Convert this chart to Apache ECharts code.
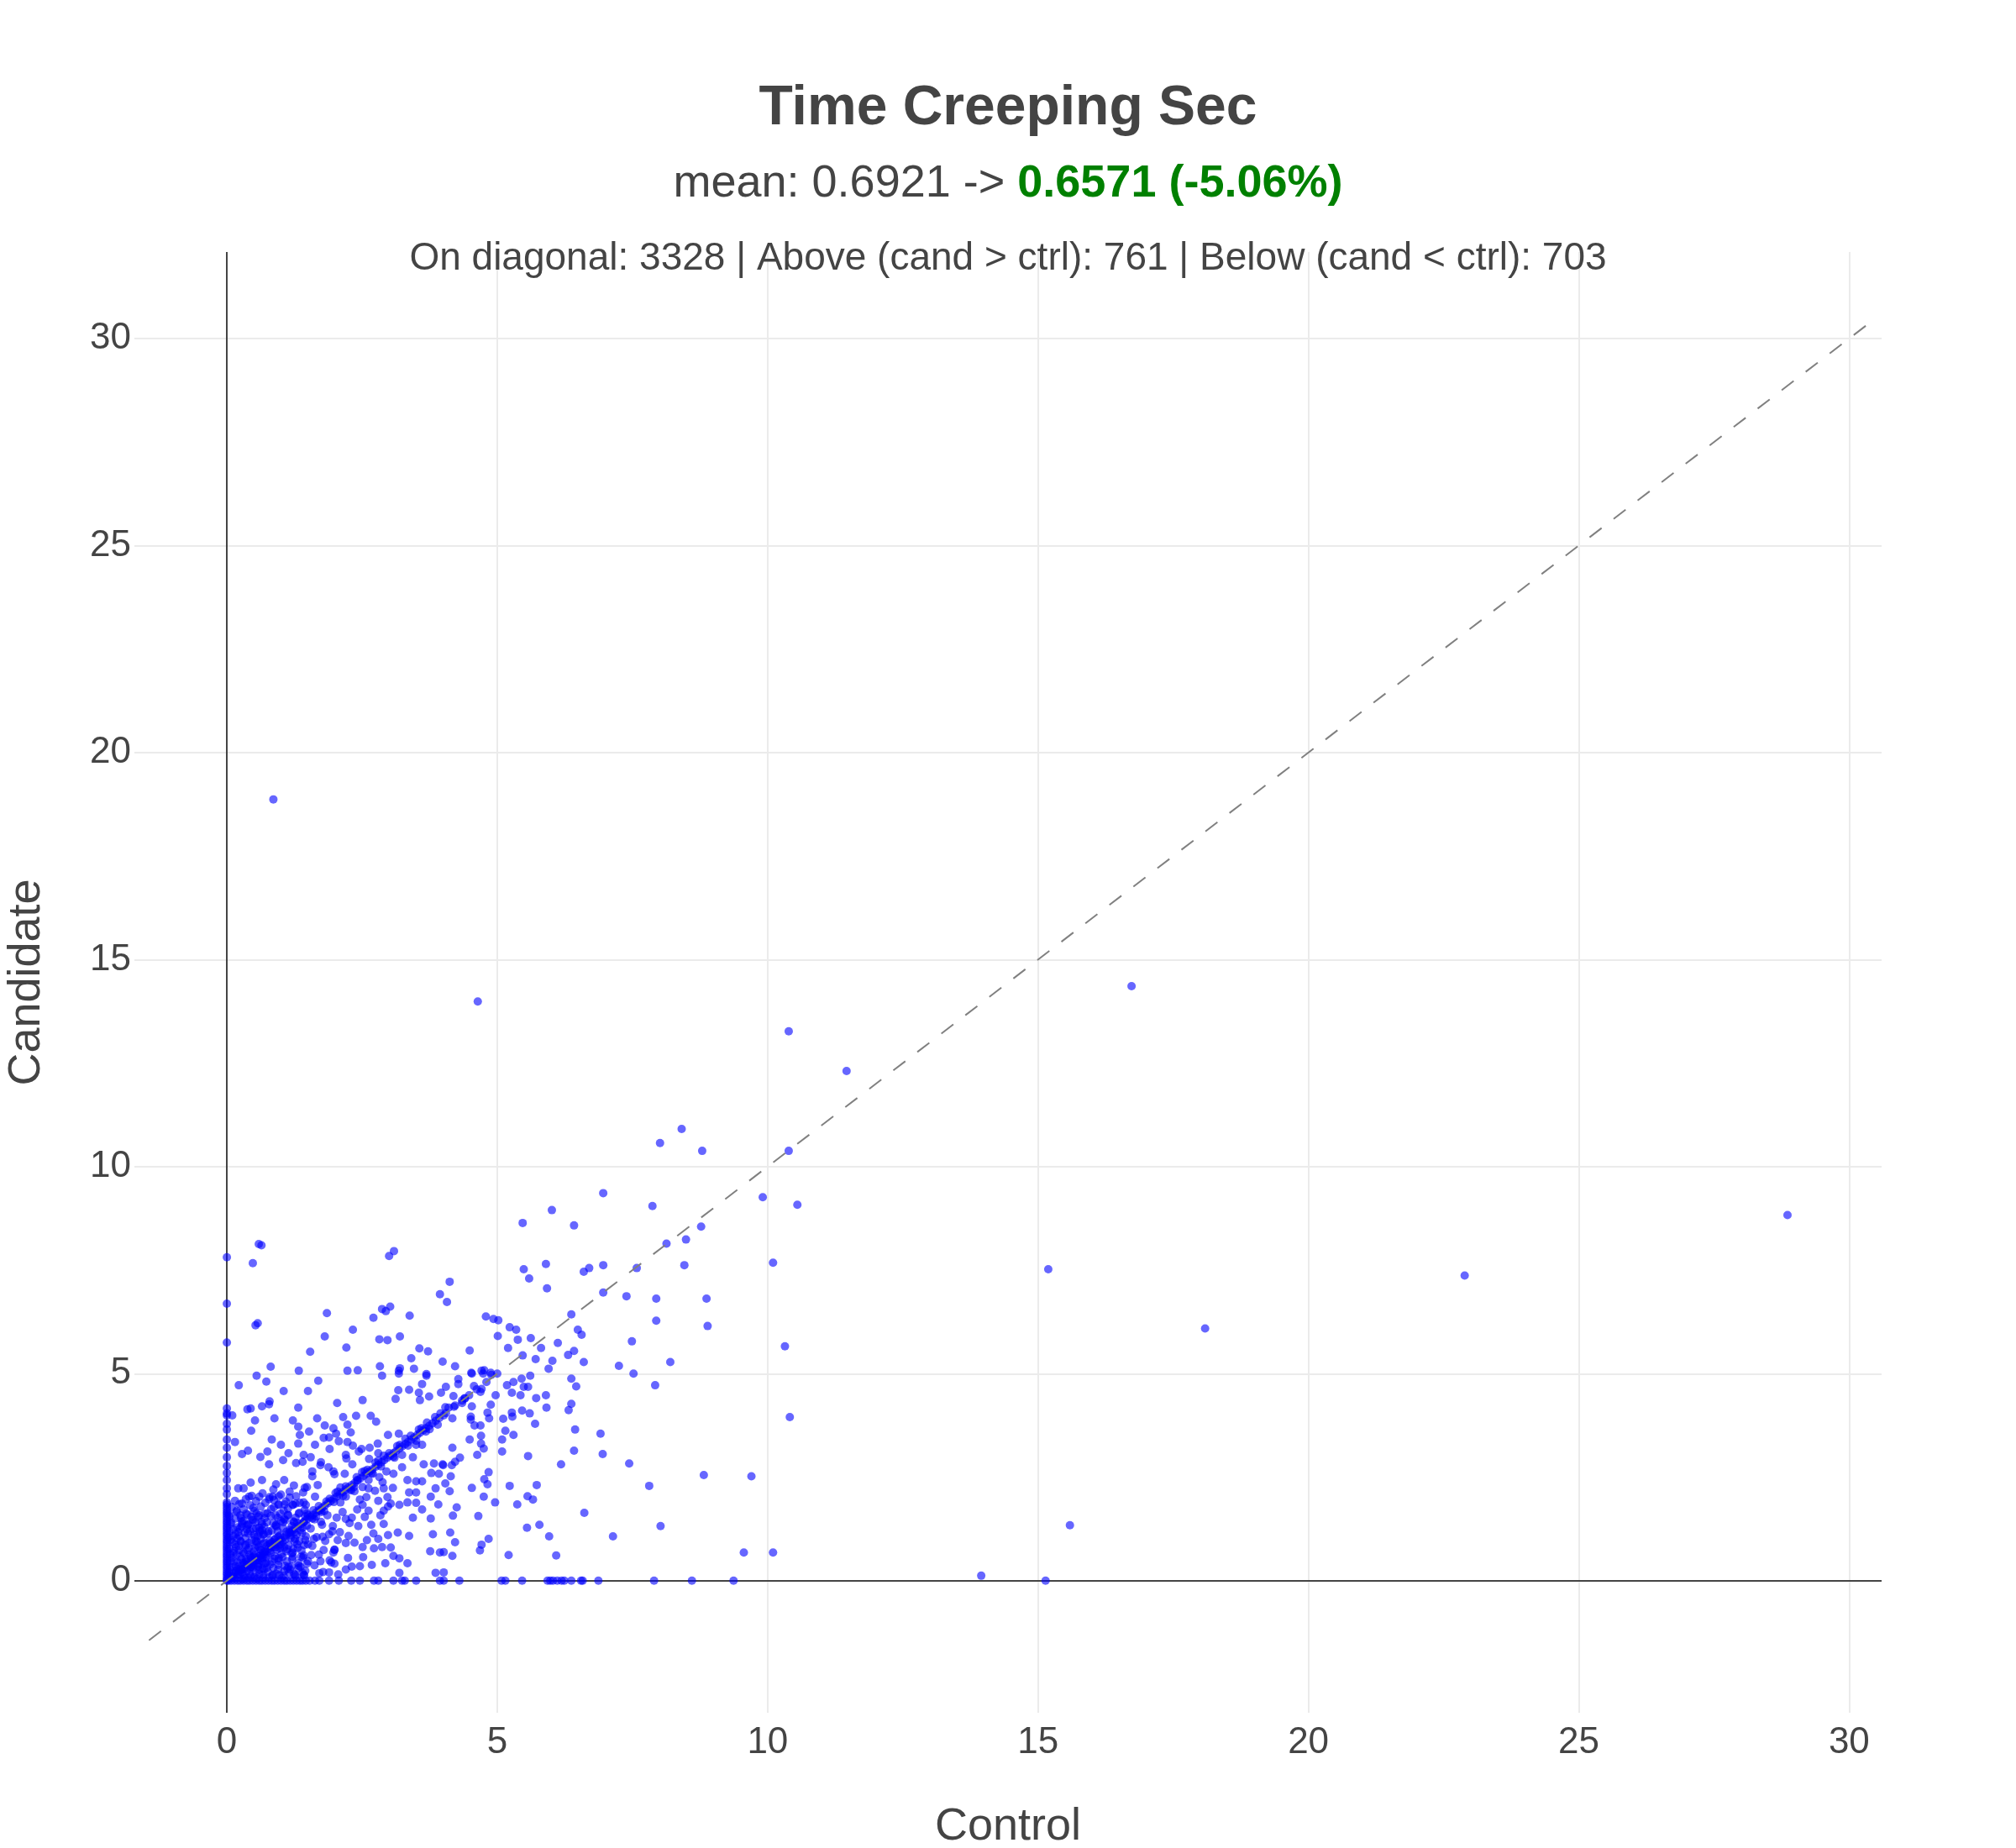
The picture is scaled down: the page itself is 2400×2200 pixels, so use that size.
<!DOCTYPE html>
<html>
<head>
<meta charset="utf-8">
<title>Time Creeping Sec</title>
<script src="https://cdn.jsdelivr.net/npm/echarts@6/dist/echarts.min.js"></script>
<style>
  html, body { margin: 0; padding: 0; background: #fff; }
  #chart { width: 2400px; height: 2200px; }
</style>
</head>
<body>
<div id="chart"></div>
<script>
// titles
var titleText = "Time Creeping Sec";
var meanCtrlText = "mean: 0.6921 -> ";
var meanCandText = "0.6571 (-5.06%)";
var countsText = "On diagonal: 3328 | Above (cand > ctrl): 761 | Below (cand < ctrl): 703";

// axis ticks
var xTicks = [0, 5, 10, 15, 20, 25, 30];
var yTicks = [0, 5, 10, 15, 20, 25, 30];
var diagEnds = [-1.44, 30.31];

// [control, candidate] points
var farPts = [
  [0.86,18.87],[4.64,13.99],[16.73,14.36],[10.39,13.27],[11.46,12.31],[8.41,10.91],[8.01,10.57],[8.79,10.38],
  [10.39,10.38],[6.96,9.36],[9.91,9.26],[10.55,9.08],[7.87,9.05],[28.86,8.83],[6.01,8.95],[5.47,8.64],
  [6.42,8.58],[8.77,8.55],[8.49,8.24],[8.13,8.14],[10.1,7.68],[5.9,7.65],[6.96,7.62],[6.7,7.55],[6.6,7.46],
  [15.19,7.52],[22.89,7.37],[5.49,7.52],[5.59,7.3],[7.58,7.55],[8.46,7.62],[5.92,7.06],[7.39,6.87],[8.87,6.81],
  [7.94,6.81],[6.37,6.43],[7.94,6.28],[8.89,6.15],[18.09,6.09],[5.23,6.12],[5.35,6.06],[6.49,6.06],[6.56,5.94],
  [10.32,5.66],[7.49,5.78],[8.2,5.28],[7.25,5.19],[10.41,3.95],[8.82,2.55],[9.7,2.52],[9.56,0.68],[10.1,0.68],
  [13.95,0.12],[15.59,1.34],[5.62,5.86],[5.81,5.62],[6.12,5.74],[6.31,5.45],[6.02,5.31],[6.42,5.55],[5.47,5.44],
  [5.71,5.35],[5.2,5.62],[5.95,5.12],[6.6,5.28],[5.38,5.82]
];
var midPts = [
  [4.28,4.87],[4.28,4.75],[4.05,4.68],[4.53,5.0],[4.74,5.0],[4.89,4.97],[4.57,4.7],[4.69,4.56],[4.71,4.63],
  [4.19,4.46],[4.4,4.41],[4.35,4.29],[4.22,4.23],[4.53,4.21],[4.04,4.19],[4.01,3.99],[4.17,3.92],[4.51,3.96],
  [4.51,3.89],[4.58,3.75],[4.69,3.75],[4.88,4.25],[4.82,4.06],[4.85,3.92],[4.97,4.48],[5.18,4.72],[5.3,4.8],
  [5.45,4.88],[5.61,4.95],[5.49,4.68],[5.57,4.68],[5.27,4.54],[5.43,4.48],[5.72,4.41],[5.9,4.48],[5.91,4.18],
  [5.46,4.11],[5.6,4.04],[5.27,4.06],[5.28,3.96],[5.11,3.91],[5.7,3.79],[5.15,3.62],[5.3,3.52],[5.09,3.41],
  [5.09,3.12],[4.7,3.5],[4.7,3.31],[4.75,3.19],[4.63,3.04],[4.49,3.41],[4.17,3.21],[4.31,2.97],[4.22,2.87],
  [4.16,2.79],[4.0,2.79],[4.14,2.52],[4.04,2.35],[4.12,2.16],[4.53,2.24],[4.76,2.45],[4.84,2.62],[4.82,2.33],
  [4.75,2.03],[4.96,1.89],[4.25,1.77],[4.18,1.57],[4.65,1.56],[4.13,1.16],[4.22,0.93],[4.71,0.87],[4.68,0.73],
  [4.84,1.01],[4.01,0.69],[4.17,0.6],[4.01,0.2],[5.23,2.29],[5.73,2.31],[5.56,2.04],[5.66,1.96],[5.37,1.84],
  [5.57,3.01],[6.18,2.81],[6.37,4.88],[6.46,4.69],[6.37,4.27],[6.32,4.12],[6.44,3.65],[6.42,3.14],[6.91,3.55],
  [6.95,3.06],[7.44,2.83],[7.81,2.29],[7.92,4.72],[7.52,5.0],[6.61,1.64],[8.02,1.32],[7.14,1.07],[5.96,1.07],
  [5.78,1.35],[5.55,1.28],[5.21,0.62],[6.09,0.61]
];
var upPts = [
  [0.48,7.67],[0.59,8.13],[0.64,8.1],[0.53,6.17],[0.57,6.22],[3.0,7.84],[3.09,7.96],[4.12,7.22],[3.94,6.92],
  [4.07,6.73],[1.85,6.46],[1.81,5.9],[1.54,5.53],[0.81,5.17],[1.33,5.07],[2.23,5.07],[2.42,5.08],[2.21,5.63],
  [2.33,6.06],[2.71,6.35],[2.87,6.56],[2.94,6.51],[3.02,6.62],[3.38,6.4],[2.82,5.83],[2.97,5.81],[3.2,5.9],
  [3.56,5.61],[3.72,5.54],[3.41,5.37],[3.46,5.12],[2.83,5.18],[3.18,5.07],[3.2,5.13],[3.69,4.99],[3.99,5.29],
  [4.22,5.18],[4.49,5.56],[4.79,6.38],[4.93,6.32],[5.02,6.29],[5.01,5.91],[4.52,5.02],[4.71,5.07],[4.76,5.08],
  [4.88,5.02]
];
var lowPts = [
  [0.73,4.81],[1.69,4.83],[1.5,4.58],[2.04,4.29],[2.51,4.36],[2.87,4.95],[3.18,5.0],[3.69,4.95],[3.61,4.75],
  [3.17,4.6],[3.37,4.61],[3.55,4.54],[3.12,4.39],[3.57,4.36],[3.74,4.45],[3.96,4.54],[0.79,4.33],[0.78,4.26],
  [0.65,4.21],[0.38,4.14],[0.44,4.16],[0.1,3.99],[1.32,4.18],[0.88,3.92],[0.52,3.87],[1.22,3.87],[1.32,3.72],
  [2.39,3.98],[2.66,3.98],[2.76,3.84],[1.81,3.75],[1.97,3.68],[2.02,3.55],[1.89,3.46],[2.23,3.77],[2.29,3.58],
  [2.23,3.35],[1.79,3.45],[1.63,3.28],[1.35,3.52],[1.32,3.31],[0.83,3.41],[1.0,3.28],[1.14,3.08],[0.75,3.12],
  [0.39,3.14],[0.28,3.06],[0.62,2.99],[0.78,2.81],[1.04,2.91],[1.28,2.84],[1.42,3.04],[1.4,2.87],[1.55,2.98],
  [1.58,2.64],[1.73,2.79],[1.97,2.64],[1.99,2.57],[2.2,3.04],[2.33,3.26],[2.49,3.18],[2.64,3.21],[2.8,3.08],
  [2.98,3.52],[3.18,3.55],[3.5,3.28],[3.61,3.28],[3.24,3.04],[3.44,2.98],[3.64,2.81],[3.83,2.83],[3.99,2.81],
  [3.78,2.6],[3.92,2.58],[3.86,2.23],[3.34,2.43],[3.5,2.4],[3.61,2.4],[3.07,2.24],[2.9,2.23],[2.62,2.23],
  [2.51,2.26],[3.37,2.13],[3.5,2.13],[3.77,2.03],[3.91,1.84],[2.8,1.93],[3.03,1.86],[3.19,1.83],[3.34,1.89],
  [3.5,1.88],[3.61,1.72],[3.44,1.52],[3.77,1.5],[2.98,1.79],[2.9,1.69],[2.62,1.69],[2.51,1.83],[2.31,1.52],
  [2.2,1.49],[2.43,1.32],[2.67,1.35],[2.9,1.37],[2.8,1.01],[2.98,1.1],[3.16,1.16],[3.37,1.08],[3.81,1.12],
  [2.59,0.98],[2.25,1.08],[2.2,0.91],[2.51,0.81],[2.72,0.78],[2.87,0.81],[3.03,0.8],[3.76,0.71],[3.94,0.68],
  [3.08,0.6],[3.19,0.54],[3.34,0.42],[3.19,0.19],[3.86,0.19],[2.46,0.35],[2.31,0.34],[2.2,0.27],[1.89,0.2],
  [1.99,0.41],[1.73,0.47],[1.79,0.74],[1.99,0.74],[2.05,0.98],[1.89,1.12],[1.97,0.68],[1.48,0.41],[1.32,0.3],
  [1.42,0.14],[1.61,1.01],[1.5,0.88],[1.73,1.69],[1.76,1.35],[1.48,1.62],[2.1,1.89],[2.2,2.03],[2.46,1.96],
  [2.36,2.16],[2.62,2.43],[2.41,2.43],[2.82,2.5],[3.08,2.58],[3.24,2.74],[2.95,2.64],[1.63,2.03],[1.42,1.89],
  [1.22,1.83],[1.48,2.26],[1.24,2.3],[1.06,2.43],[0.91,2.33],[0.65,2.43],[0.44,2.37],[0.31,2.23],[0.21,2.23],
  [0.41,2.03],[0.6,2.03],[0.85,2.03],[0.28,1.86],[0.18,1.69],[0.49,1.76],[0.7,1.62],[0.96,1.83],[1.06,1.49],
  [0.91,1.35],[0.65,1.22],[0.39,1.35],[0.23,1.08],[0.54,0.95],[0.8,0.88],[1.06,0.81],[1.22,0.68],[0.96,0.54],
  [0.7,0.41],[0.44,0.34],[0.23,0.27],[1.17,0.27],[0.55,4.95],[0.22,4.72],[1.05,4.58],[0.45,3.62],[0.15,3.35]
];
var densePts = [
  [0.04,0.21],[0.07,0.48],[0.11,0.09],[0.13,0.72],[0.16,0.35],[0.19,1.02],[0.21,0.16],[0.24,0.58],[0.27,1.31],[0.29,0.04],
  [0.32,0.41],[0.34,0.87],[0.37,0.23],[0.39,1.14],[0.42,0.63],[0.44,0.11],[0.47,1.47],[0.49,0.37],[0.52,0.79],[0.55,0.05],
  [0.57,1.08],[0.6,0.26],[0.62,0.55],[0.65,1.36],[0.67,0.14],[0.7,0.92],[0.73,0.43],[0.75,1.63],[0.78,0.08],[0.81,0.67],
  [0.83,1.21],[0.86,0.31],[0.88,0.99],[0.91,0.17],[0.94,1.52],[0.96,0.48],[0.99,0.83],[1.02,0.06],[1.04,1.27],[1.07,0.36],
  [1.1,0.71],[1.13,1.74],[1.15,0.19],[1.18,1.03],[1.21,0.52],[1.24,1.41],[1.27,0.11],[1.3,0.88],[1.33,1.62],[1.36,0.33],
  [1.39,1.15],[1.42,0.61],[1.45,0.24],[1.48,1.33],[0.05,1.55],[0.09,1.78],[0.12,1.24],[0.15,1.93],[0.18,1.66],[0.23,1.85],
  [0.26,1.51],[0.31,1.72],[0.35,1.97],[0.38,1.59],[0.43,1.82],[0.46,2.05],[0.51,1.68],[0.54,1.92],[0.58,1.54],[0.63,1.79],
  [0.66,2.11],[0.71,1.88],[0.74,1.41],[0.79,2.02],[0.82,1.73],[0.87,1.95],[0.9,1.58],[0.95,1.84],[1.0,2.08],[1.05,1.69],
  [1.09,1.91],[1.16,2.15],[1.22,1.83],[1.28,2.04],[1.35,1.88],[1.41,2.13],[0.06,0.64],[0.1,0.93],[0.14,0.19],[0.17,0.81],
  [0.2,0.44],[0.25,0.96],[0.28,0.27],[0.3,0.69],[0.33,1.16],[0.36,0.52],[0.4,0.07],[0.41,0.91],[0.45,0.33],[0.48,1.25],
  [0.5,0.62],[0.53,0.19],[0.56,0.94],[0.59,0.41],[0.61,1.18],[0.64,0.73],[0.66,0.29],[0.69,1.12],[0.72,0.56],[0.76,0.21],
  [0.79,0.97],[0.8,0.39],[0.84,0.12],[0.85,0.81],[0.89,0.59],[0.92,1.31],[0.95,0.27],[0.98,1.09],[1.01,0.64],[1.03,0.94],
  [1.06,0.23],[1.08,1.46],[1.11,0.47],[1.14,0.85],[1.17,1.23],[1.19,0.34],[1.23,0.77],[1.26,0.14],[1.29,1.11],[1.32,0.42],
  [1.34,0.96],[1.37,0.58],[1.4,0.19],[1.43,0.86],[1.46,1.07],[1.5,0.47],[0.08,0.33],[0.12,0.67],[0.22,0.84],[0.31,0.13],
  [0.38,0.74],[0.45,0.55],[0.53,1.41],[0.57,0.34],[0.68,0.62],[0.74,0.83],[0.83,0.46],[0.92,0.75],[0.97,0.13],[1.12,0.29],
  [1.2,0.66],[1.25,0.95],[1.38,0.73],[0.03,1.04],[0.07,1.37],[0.16,1.12],[0.24,1.26],[0.28,1.43],[0.37,1.33],[0.5,1.11],
  [0.6,1.28],[0.77,1.19],[0.86,1.39],[1.0,1.44],[1.13,1.58],[1.27,1.52],[1.44,1.71],[1.55,1.26],[1.58,0.84],[1.62,0.37],
  [1.66,1.05],[1.7,0.63],[1.74,1.42],[1.78,0.21],[1.82,0.96],[1.86,1.58],[1.9,0.49],[1.95,1.19],[1.99,0.75],[2.03,1.52],
  [1.6,1.7],[1.8,1.68],[2.1,2.25],[2.3,2.18],[2.5,2.62],[2.7,2.58],[2.9,3.02],[3.1,2.97],[3.3,3.43],[3.5,3.38],
  [3.7,3.82],[3.9,3.77],[1.2,1.32],[1.4,1.28],[0.9,1.02],[1.0,0.88],[0.3,0.42],[0.42,0.3],[0.62,0.75],[0.75,0.62]
];
// solid blob next to the origin
var corePts = [
  [0.03,0.12],[0.06,0.29],[0.09,0.55],[0.04,0.77],[0.07,0.98],[0.05,1.19],[0.08,1.41],[0.04,1.6],
  [0.14,0.05],[0.17,0.24],[0.13,0.46],[0.18,0.63],[0.15,0.88],[0.12,1.07],[0.19,1.29],[0.16,1.5],
  [0.24,0.14],[0.22,0.35],[0.27,0.52],[0.23,0.74],[0.26,0.94],[0.21,1.17],[0.28,1.38],[0.25,1.58],
  [0.33,0.06],[0.31,0.28],[0.36,0.47],[0.32,0.66],[0.35,0.85],[0.34,1.03],[0.37,1.24],[0.31,1.44],[0.36,1.62],
  [0.42,0.17],[0.4,0.38],[0.44,0.58],[0.41,0.79],[0.46,0.98],[0.43,1.19],[0.4,1.36],[0.45,1.54],
  [0.51,0.09],[0.49,0.31],[0.53,0.49],[0.5,0.7],[0.55,0.87],[0.52,1.05],[0.54,1.27],[0.49,1.46],[0.55,1.63],
  [0.6,0.16],[0.58,0.36],[0.62,0.6],[0.59,0.82],[0.63,1.01],[0.61,1.21],[0.64,1.42],[0.6,1.58],
  [0.67,0.07],[0.69,0.27],[0.66,0.47],[0.7,0.69],[0.68,0.89],[0.67,1.11],[0.69,1.31],[0.7,1.51],
  [0.74,0.31],[0.79,0.72],[0.76,1.14],[0.81,1.56],[0.78,1.97],[0.85,0.14],[0.88,0.53],[0.84,0.93],[0.9,1.33],
  [0.87,1.77],[0.86,2.2],[0.95,0.38],[0.98,0.78],[0.94,1.19],[0.99,1.62],[0.96,2.04],[1.05,0.12],[1.03,0.57],
  [1.08,0.99],[1.04,1.41],[1.07,1.84],[1.14,0.34],[1.12,0.76],[1.17,1.17],[1.13,1.59],[1.16,2.01],[1.24,0.16],
  [1.22,0.58],[1.26,1.01],[1.23,1.43],[1.27,1.86],[1.33,0.36],[1.31,0.79],[1.36,1.22],[1.34,1.64],[1.43,0.13],
  [1.41,0.56],[1.45,0.98],[1.42,1.41],[1.46,1.83],[1.44,2.24]
];
var spreadPts = [
  [1.56,0.62],[1.62,1.48],[1.68,2.31],[1.71,0.18],[1.77,1.06],[1.84,1.91],[1.88,2.74],[1.93,0.44],[1.96,1.32],
  [2.01,2.12],[2.06,0.15],[2.09,1.17],[2.14,1.66],[2.18,2.58],[2.24,0.55],[2.27,1.39],[2.32,2.81],[2.36,0.92],
  [2.41,1.72],[2.44,3.12],[2.52,0.57],[2.55,1.54],[2.58,2.02],[2.63,2.94],[2.68,0.38],[2.71,1.14],[2.74,2.17],
  [2.79,3.31],[2.84,1.58],[2.88,2.38],[2.93,0.42],[2.97,2.02],[1.58,2.52],[1.74,2.86],[1.9,3.18],[2.07,3.37],
  [2.21,2.95],[1.52,3.6],[1.67,3.92],[2.15,3.95],
  [0.2,0.28],[0.28,0.2],[0.5,0.58],[0.58,0.5],[0.8,0.9],[0.9,0.8],[1.1,1.18],[1.18,1.1],[1.3,1.4],[1.5,1.58],
  [1.58,1.5],[1.7,1.8],[1.9,1.98],[1.98,1.9],[2.2,2.28],[2.28,2.2],[2.4,2.5],[2.6,2.68],[2.68,2.6],[2.8,2.9],
  [3.0,3.08],[3.08,3.0],[3.2,3.28],[3.4,3.5],[3.6,3.68],[3.68,3.6],[3.85,3.95],[4.1,4.18],
  [0.35,0.45],[0.65,0.55],[0.95,1.06],[1.25,1.16],[1.45,1.55],[1.75,1.66],[2.05,2.15],[2.35,2.26],[2.55,2.65],
  [2.85,2.76],[3.15,3.25],[3.35,3.26],[3.55,3.65],[3.75,3.66],[3.95,4.04],[1.65,1.55],[2.15,2.05],[2.75,2.85]
];
// control == 0 (candidate values)
var zeroCtrl = [7.81, 6.69, 5.75, 4.16, 4.04, 3.99, 3.79, 3.65, 3.41, 3.21, 2.98, 2.77, 2.6, 2.43, 2.23, 2.09,
  1.89, 1.84, 1.78, 1.72, 1.66, 1.61, 1.55, 1.49, 1.43, 1.38, 1.32, 1.27, 1.21, 1.15, 1.1, 1.04, 0.98, 0.93,
  0.87, 0.81, 0.76, 0.7, 0.64, 0.59, 0.53, 0.47, 0.42, 0.36, 0.31, 0.25, 0.19, 0.14, 0.08, 0.03];
// candidate == 0 (control values)
var zeroCand = [0.03, 0.08, 0.14, 0.2, 0.25, 0.31, 0.37, 0.42, 0.48, 0.54, 0.6, 0.65, 0.71, 0.77, 0.83, 0.88,
  0.94, 1.0, 1.06, 1.11, 1.17, 1.23, 1.29, 1.35, 1.4, 1.46, 1.53, 1.63, 1.71, 1.89, 2.07, 2.3, 2.46, 2.72, 2.8,
  3.08, 3.24, 3.29, 3.5, 3.94, 4.01, 4.3, 5.08, 5.15, 5.46, 5.93, 5.98, 6.03, 6.11, 6.19, 6.24, 6.37, 6.55,
  6.58, 6.87, 7.9, 8.6, 9.37, 15.14];
// control == candidate
var onDiag = [0, 0.05, 0.11, 0.16, 0.22, 0.27, 0.33, 0.38, 0.44, 0.49, 0.55, 0.6, 0.66, 0.71, 0.77, 0.82, 0.88,
  0.93, 0.99, 1.04, 1.1, 1.15, 1.21, 1.26, 1.32, 1.37, 1.43, 1.48, 1.54, 1.59, 1.65, 1.7, 1.76, 1.81, 1.87, 1.92,
  1.98, 2.03, 2.09, 2.14, 2.2, 2.25, 2.31, 2.36, 2.42, 2.47, 2.53, 2.58, 2.64, 2.69, 2.75, 2.8, 2.86, 2.91, 2.97,
  3.02, 3.08, 3.13, 3.19, 3.24, 3.3, 3.35, 3.41, 3.46, 3.52, 3.57, 3.63, 3.68, 3.74, 3.8, 3.86, 3.93, 4.05, 4.2,
  4.35, 4.4, 4.48, 4.62, 4.8, 5.0, 6.96];

var pts = [].concat(farPts, midPts, upPts, lowPts, densePts, corePts, spreadPts);
zeroCtrl.forEach(function (v) { pts.push([0, v]); });
zeroCand.forEach(function (v) { pts.push([v, 0]); });
onDiag.forEach(function (v) { pts.push([v, v]); });

var myChart = echarts.init(document.getElementById("chart"), null, { renderer: "canvas" });
var font = "'Liberation Sans', Arial, sans-serif";
var ink = "#444444";

var option = {
  animation: false,
  backgroundColor: "#ffffff",
  textStyle: { fontFamily: font },
  grid: { left: 160, right: 160, top: 300, bottom: 161, containLabel: false, outerBoundsMode: "none" },
  graphic: [
    {
      type: "text", x: 1200, y: 130, z: 10,
      style: { text: titleText, align: "center", verticalAlign: "middle",
        font: "bold 66px " + font, fill: ink }
    },
    {
      type: "text", x: 1200, y: 219, z: 10,
      style: {
        text: "{n|" + meanCtrlText + "}{b|" + meanCandText + "}",
        align: "center", verticalAlign: "middle",
        rich: {
          n: { fontSize: 54, fontFamily: font, fill: ink },
          b: { fontSize: 54, fontFamily: font, fontWeight: "bold", fill: "#008000" }
        }
      }
    },
    {
      type: "text", x: 1200, y: 308, z: 10,
      style: { text: countsText, align: "center", verticalAlign: "middle",
        font: "46px " + font, fill: ink }
    }
  ],
  xAxis: {
    type: "value", min: -1.71, max: 30.6,
    name: "Control", nameLocation: "middle", nameGap: 109,
    nameTextStyle: { fontSize: 54, color: ink, fontFamily: font },
    axisLine: { show: false },
    axisTick: { show: false, customValues: xTicks },
    axisLabel: { customValues: xTicks, fontSize: 44, color: ink, margin: 14, fontFamily: font },
    splitLine: { show: true, lineStyle: { color: "#ebebeb", width: 2 } }
  },
  yAxis: {
    type: "value", min: -3.19, max: 32.09,
    name: "Candidate", nameLocation: "middle", nameGap: 101, nameRotate: 90,
    nameTextStyle: { fontSize: 54, color: ink, fontFamily: font },
    axisLine: { show: false },
    axisTick: { show: false, customValues: yTicks },
    axisLabel: { customValues: yTicks, fontSize: 44, color: ink, margin: 4, fontFamily: font },
    splitLine: { show: true, lineStyle: { color: "#ebebeb", width: 2 } }
  },
  series: [
    {
      name: "zero", type: "scatter", data: [], z: 1, silent: true,
      markLine: {
        z: 1, silent: true, symbol: "none", animation: false,
        label: { show: false },
        lineStyle: { color: ink, width: 2, type: "solid" },
        emphasis: { disabled: true },
        data: [{ xAxis: 0 }, { yAxis: 0 }]
      }
    },
    {
      name: "points", type: "scatter", z: 3, symbolSize: 10,
      itemStyle: { color: "#0000ff", opacity: 0.6 },
      data: pts
    },
    {
      name: "diagonal", type: "line", z: 5, showSymbol: false, silent: true,
      lineStyle: { color: "#808080", width: 2, type: [18, 18] },
      data: [[diagEnds[0], diagEnds[0]], [diagEnds[1], diagEnds[1]]]
    }
  ]
};
myChart.setOption(option);
</script>
</body>
</html>
